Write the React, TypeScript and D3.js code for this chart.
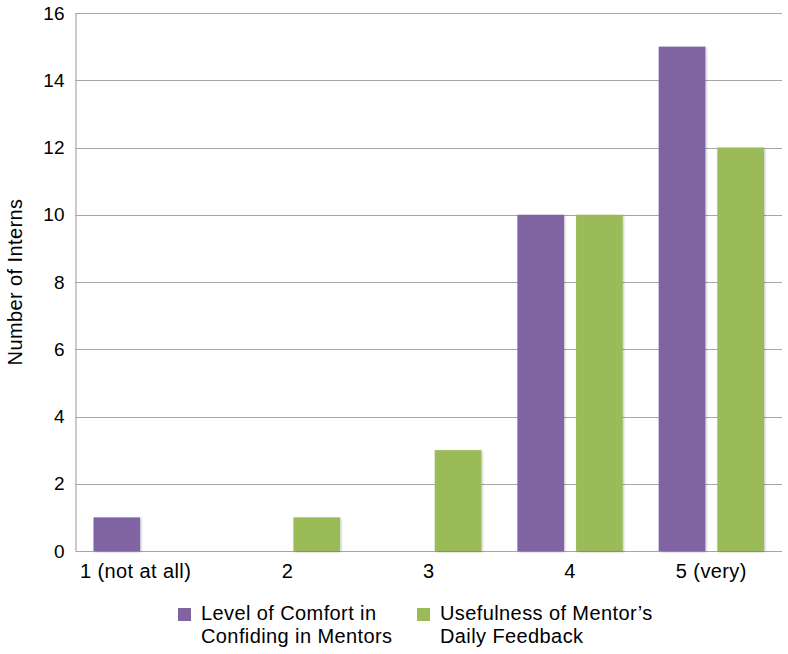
import React from "react";
import * as d3 from "d3";

const categories = ["1 (not at all)", "2", "3", "4", "5 (very)"];
const comfortValues = [1, 0, 0, 10, 15];
const feedbackValues = [0, 1, 3, 10, 12];
const seriesNames = [
  ["Level of Comfort in", "Confiding in Mentors"],
  ["Usefulness of Mentor\u2019s", "Daily Feedback"],
];
const yTicks = [0, 2, 4, 6, 8, 10, 12, 14, 16];

const PURPLE = "#8064A2";
const GREEN = "#9BBB59";
const FONT = "'Liberation Sans', Arial, Helvetica, sans-serif";

export default function App() {
  const width = 788;
  const height = 654;
  const margin = { top: 13, right: 6, bottom: 103, left: 75.5 };
  const plotWidth = width - margin.left - margin.right;
  const plotHeight = height - margin.top - margin.bottom;

  const xScale = d3
    .scaleBand()
    .domain(categories)
    .range([0, plotWidth])
    .paddingInner(0)
    .paddingOuter(0);

  const yScale = d3.scaleLinear().domain([0, 16]).range([plotHeight, 0]);

  const outer = 18;
  const gap = 12;
  const barWidth = (xScale.bandwidth() - 2 * outer - gap) / 2;

  const series = [
    { values: comfortValues, color: PURPLE },
    { values: feedbackValues, color: GREEN },
  ];

  const textStyle = { letterSpacing: "0.4px" };

  return (
    <svg
      width={width}
      height={height}
      style={{ position: "absolute", left: 0, top: 0, background: "#fff" }}
      fontFamily={FONT}
    >
      <defs>
        <filter id="shadow" x="-10%" y="-10%" width="130%" height="130%">
          <feDropShadow dx="1" dy="1" stdDeviation="1" floodColor="#000" floodOpacity="0.25" />
        </filter>
      </defs>
      <g transform={`translate(${margin.left}, ${margin.top})`}>
        {/* gridlines */}
        {yTicks.map((t) => (
          <g key={t}>
            <line
              x1={0}
              x2={plotWidth}
              y1={Math.round(yScale(t)) + 0.5}
              y2={Math.round(yScale(t)) + 0.5}
              stroke="#A6A6A6"
              strokeWidth={1.2}
            />
            <text
              x={-11}
              y={yScale(t)}
              textAnchor="end"
              dominantBaseline="central"
              fontSize={19}
              fill="#000"
            >
              {t}
            </text>
          </g>
        ))}
        <line x1={0.5} x2={0.5} y1={0} y2={plotHeight} stroke="#A6A6A6" strokeWidth={1.2} />

        {/* bars */}
        {series.map((s, si) =>
          categories.map((c, i) =>
            s.values[i] > 0 ? (
              <rect
                key={`${si}-${c}`}
                x={(xScale(c) ?? 0) + outer + si * (barWidth + gap)}
                y={yScale(s.values[i])}
                width={barWidth}
                height={plotHeight - yScale(s.values[i])}
                fill={s.color}
                filter="url(#shadow)"
              />
            ) : null
          )
        )}

        {/* x labels */}
        {categories.map((c, i) => (
          <text
            key={c}
            x={i === 0 ? (xScale(c) ?? 0) + 4.5 : (xScale(c) ?? 0) + xScale.bandwidth() / 2}
            y={plotHeight + 27}
            textAnchor={i === 0 ? "start" : "middle"}
            fontSize={20}
            fill="#000"
            style={textStyle}
          >
            {c}
          </text>
        ))}
      </g>

      {/* y axis title */}
      <text
        transform={`translate(22, ${margin.top + plotHeight / 2}) rotate(-90)`}
        textAnchor="middle"
        fontSize={20}
        fill="#000"
        style={textStyle}
      >
        Number of Interns
      </text>

      {/* legend */}
      {seriesNames.map((lines, i) => {
        const lx = 178 + i * 239;
        return (
          <g key={i}>
            <rect x={lx} y={608} width={13} height={13} fill={series[i].color} />
            <text x={lx + 23} y={620} fontSize={20} fill="#000" style={textStyle}>
              {lines[0]}
            </text>
            <text x={lx + 23} y={643} fontSize={20} fill="#000" style={textStyle}>
              {lines[1]}
            </text>
          </g>
        );
      })}
    </svg>
  );
}
